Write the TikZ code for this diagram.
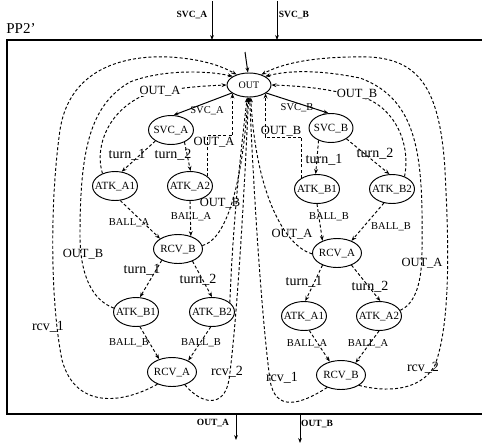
\documentclass[tikz,border=0pt]{standalone}
\usepackage{fontspec}
\setmainfont{Liberation Serif}
\usetikzlibrary{shapes.geometric,arrows.meta}
\newcommand\nodetxt[1]{\smash{\makebox[0pt]{\raisebox{-0.33em}{#1}}}}
\tikzset{
  st/.style={ellipse, draw, line width=0.95pt, minimum width=45, minimum height=29, inner sep=0pt, font=\fontsize{11}{11}\selectfont},
  rcvst/.style={st, minimum width=49},
  outst/.style={st, minimum width=44, minimum height=24, font=\fontsize{10}{10}\selectfont},
  tip/.style={-{Stealth[length=5pt,width=3.8pt]}},
  dsh/.style={tip, dash pattern=on 3pt off 2.2pt, line width=0.95pt},
  sol/.style={tip, line width=1pt},
  big/.style={font=\fontsize{14}{14}\selectfont, inner sep=0.5pt},
  mid/.style={font=\fontsize{12.5}{12.5}\selectfont, inner sep=0.5pt},
  small/.style={font=\fontsize{10.5}{10.5}\selectfont, inner sep=0.5pt},
  io/.style={font=\bfseries\fontsize{9.5}{9.5}\selectfont, inner sep=0.5pt},
  wf/.style={fill=white, inner sep=0.3pt}
}
\begin{document}
\begin{tikzpicture}[x=1pt,y=-1pt]
\useasboundingbox (0,0) rectangle (482,445);
% outer box
\coordinate (bTL) at (7,40);
\coordinate (bTR) at (482,40);
\coordinate (bBL) at (7,414);
\coordinate (bBR) at (482,414);
\draw[line width=1.4pt] (bTR) -- (bTL) -- (bBL) -- (bBR);
\node[font=\fontsize{15}{15}\selectfont, inner sep=0pt] (title) at (21,29) {PP2'};
% inputs / outputs
\coordinate (svcAin) at (212,1);
\coordinate (svcAbox) at (212,40);
\coordinate (svcBin) at (277,1);
\coordinate (svcBbox) at (277,40);
\draw[sol] (svcAin) -- (svcAbox);
\draw[sol] (svcBin) -- (svcBbox);
\node[io] (tSVCA) at (192,15) {SVC\_A};
\node[io] (tSVCB) at (294,15) {SVC\_B};
\coordinate (outAbox) at (236,414);
\coordinate (outAend) at (236,440);
\coordinate (outBbox) at (300,414);
\coordinate (outBend) at (300,443);
\draw[sol] (outAbox) -- (outAend);
\draw[sol] (outBbox) -- (outBend);
\node[io] (tOUTA) at (213,423) {OUT\_A};
\node[io] (tOUTB) at (317,424) {OUT\_B};

% states
\node[outst] (OUT) at (249,85) {\nodetxt{OUT}};
\node[st] (SVCA) at (171,130) {\nodetxt{SVC\_A}};
\node[st, minimum width=44] (SVCB) at (331,128) {\nodetxt{SVC\_B}};
\node[st] (ATKA1L) at (115,186) {\nodetxt{ATK\_A1}};
\node[st] (ATKA2L) at (190,186) {\nodetxt{ATK\_A2}};
\node[st] (ATKB1R) at (317,189) {\nodetxt{ATK\_B1}};
\node[st] (ATKB2R) at (392,189) {\nodetxt{ATK\_B2}};
\node[rcvst] (RCVBL) at (178,249) {\nodetxt{RCV\_B}};
\node[rcvst] (RCVAR) at (337,253) {\nodetxt{RCV\_A}};
\node[st] (ATKB1L) at (136,312) {\nodetxt{ATK\_B1}};
\node[st] (ATKB2L) at (212,312) {\nodetxt{ATK\_B2}};
\node[st] (ATKA1R) at (304,316) {\nodetxt{ATK\_A1}};
\node[st] (ATKA2R) at (379,316) {\nodetxt{ATK\_A2}};
\node[rcvst] (RCVAL) at (172,372) {\nodetxt{RCV\_A}};
\node[rcvst] (RCVBR) at (341,375) {\nodetxt{RCV\_B}};

% initial arrow
\coordinate (init) at (245,52);
\draw[sol] (init) -- (OUT.95);

% solid service edges
\draw[sol] (OUT.205) -- (SVCA.80);
\draw[sol] (OUT.335) -- (SVCB.100);

% forward dashed edges
\draw[dsh] (SVCA.215) -- (ATKA1L.65);
\draw[dsh] (SVCA.318) -- (ATKA2L.88);
\draw[dsh] (SVCB.225) -- (ATKB1R.95);
\draw[dsh] (SVCB.325) -- (ATKB2R.100);
\draw[dsh] (ATKA1L.290) -- (RCVBL.150);
\draw[dsh] (ATKA2L.270) -- (RCVBL.45);
\draw[dsh] (ATKB1R.270) -- (RCVAR.140);
\draw[dsh] (ATKB2R.240) -- (RCVAR.40);
\draw[dsh] (RCVBL.215) -- (ATKB1L.75);
\draw[dsh] (RCVBL.320) -- (ATKB2L.90);
\draw[dsh] (RCVAR.220) -- (ATKA1R.85);
\draw[dsh] (RCVAR.320) -- (ATKA2R.85);
\draw[dsh] (ATKB1L.285) -- (RCVAL.135);
\draw[dsh] (ATKB2L.265) -- (RCVAL.35);
\draw[dsh] (ATKA1R.290) -- (RCVBR.130);
\draw[dsh] (ATKA2R.270) -- (RCVBR.40);

% left return curves
\draw[dsh] (RCVAL.220) .. controls (120,405) and (75,408) .. (62,360)
  .. controls (50,300) and (50,200) .. (60,130)
  .. controls (70,65) and (130,55) .. (170,57)
  .. controls (200,59) and (220,65) .. (OUT.140);
\draw[dsh] (ATKB1L.170) .. controls (92,300) and (80,275) .. (80,235)
  .. controls (80,150) and (90,105) .. (130,82)
  .. controls (160,70) and (205,70) .. (OUT.152);
\draw[dsh] (ATKA1L.135) .. controls (95,150) and (105,115) .. (140,97)
  .. controls (170,88) and (200,86) .. (OUT.west);
% right return curves
\draw[dsh] (RCVBR.-30) .. controls (385,392) and (420,392) .. (435,365)
  .. controls (452,320) and (448,230) .. (445,170)
  .. controls (440,90) and (420,60) .. (370,57)
  .. controls (320,56) and (285,62) .. (OUT.40);
\draw[dsh] (ATKA2R.15) .. controls (412,305) and (422,290) .. (422,250)
  .. controls (423,160) and (420,100) .. (360,78)
  .. controls (320,70) and (290,70) .. (OUT.28);
\draw[dsh] (ATKB2R.45) .. controls (410,150) and (400,115) .. (370,100)
  .. controls (330,88) and (300,86) .. (OUT.east);
% central return edges
\coordinate (c1) at (233,135);
\coordinate (c2) at (265,137);
\draw[dsh] (ATKA2L.29) |- (c1) -| (OUT.207);
\draw[dsh] (ATKB1R.144) |- (c2) -| (OUT.333);
\draw[dsh] (ATKB2L.28) .. controls (232,250) and (236,190) .. (OUT.262);
\draw[dsh] (RCVBL.8) .. controls (225,240) and (242,190) .. (OUT.265);
\draw[dsh] (RCVAL.-45) .. controls (202,405) and (224,408) .. (229,380)
  .. controls (237,320) and (244,200) .. (OUT.268);
\draw[dsh] (RCVBR.222) .. controls (300,405) and (275,412) .. (270,380)
  .. controls (262,320) and (254,200) .. (OUT.273);
\draw[dsh] (RCVAR.182) .. controls (285,246) and (256,195) .. (OUT.278);

% labels
\node[small] (lsa) at (207,111) {SVC\_A};
\node[small] (lsb) at (297,108) {SVC\_B};
\node[big] (lt1) at (127,155) {turn\_1};
\node[big] (lt2) at (173,155) {turn\_2};
\node[big] (lt3) at (324,160) {turn\_1};
\node[big] (lt4) at (375,154) {turn\_2};
\node[small] (lb1) at (129,223) {BALL\_A};
\node[small] (lb2) at (191,217) {BALL\_A};
\node[small] (lb3) at (329,217) {BALL\_B};
\node[small] (lb4) at (391,227) {BALL\_B};
\node[big] (lt5) at (142,270) {turn\_1};
\node[big] (lt6) at (198,280) {turn\_2};
\node[big] (lt7) at (304,282) {turn\_1};
\node[big] (lt8) at (370,287) {turn\_2};
\node[small] (lb5) at (129,343) {BALL\_B};
\node[small] (lb6) at (201,343) {BALL\_B};
\node[small] (lb7) at (307,344) {BALL\_A};
\node[small] (lb8) at (368,344) {BALL\_A};
\node[mid, wf] (lo1) at (160,91) {OUT\_A};
\node[mid, wf] (lo2) at (357,94) {OUT\_B};
\node[mid] (lo3) at (214,142) {OUT\_A};
\node[mid] (lo4) at (281,131) {OUT\_B};
\node[mid] (lo5) at (83,254) {OUT\_B};
\node[mid] (lo6) at (422,263) {OUT\_A};
\node[mid] (lo7) at (220,203) {OUT\_B};
\node[mid] (lo8) at (292,234) {OUT\_A};
\node[big] (lr1) at (48,327) {rcv\_1};
\node[big] (lr2) at (227,372) {rcv\_2};
\node[big] (lr3) at (282,378) {rcv\_1};
\node[big] (lr4) at (423,368) {rcv\_2};
\end{tikzpicture}
\end{document}
